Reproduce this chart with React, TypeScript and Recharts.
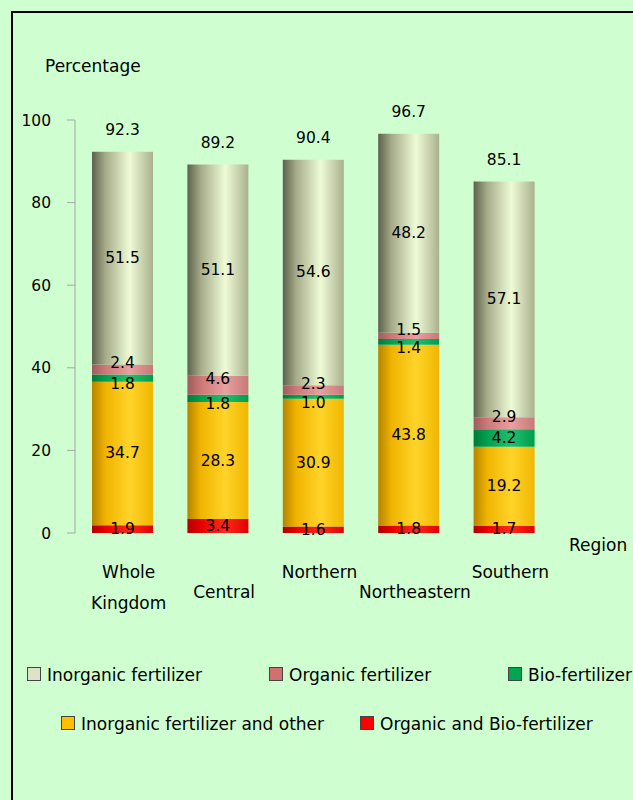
import { Bar, BarChart, LabelList, XAxis, YAxis } from "recharts";

const REGIONS = ["Whole Kingdom", "Central", "Northern", "Northeastern", "Southern"];
const ORGANIC_BIO = [1.9, 3.4, 1.6, 1.8, 1.7];
const INORGANIC_OTHER = [34.7, 28.3, 30.9, 43.8, 19.2];
const BIO = [1.8, 1.8, 1.0, 1.4, 4.2];
const ORGANIC = [2.4, 4.6, 2.3, 1.5, 2.9];
const INORGANIC = [51.5, 51.1, 54.6, 48.2, 57.1];
const TOTALS = [92.3, 89.2, 90.4, 96.7, 85.1];
const Y_TICKS = [0, 20, 40, 60, 80, 100];
const EDGE_TICKS = [0, 1, 2, 3, 4, 5];

// stacked bottom -> top
const SERIES = [
  { key: "orgBio", name: "Organic and Bio-fertilizer", swatch: "#ff0000", stops: ["#b00000", "#e60000", "#ff2a1a", "#e00000"] },
  { key: "inorgOther", name: "Inorganic fertilizer and other", swatch: "#ffc000", stops: ["#b58400", "#f0b400", "#ffd42a", "#f0b600"] },
  { key: "bio", name: "Bio-fertilizer", swatch: "#00a550", stops: ["#007a3a", "#00a050", "#20c070", "#009c4a"] },
  { key: "organic", name: "Organic fertilizer", swatch: "#d07070", stops: ["#9e5a5a", "#cc7878", "#e8a0a0", "#c87878"] },
  { key: "inorganic", name: "Inorganic fertilizer", swatch: "#dde3c8", stops: ["#5e614a", "#a6ab8a", "#eefcd6", "#aab08e"] },
];

// small label nudges so the thin segments' labels don't collide
const LABEL_DY: Record<string, (v: number) => number> = {
  organic: () => -6,
  bio: (v) => (v < 3 ? 6 : 0),
};

const data = REGIONS.map((region, i) => ({
  region,
  orgBio: ORGANIC_BIO[i],
  inorgOther: INORGANIC_OTHER[i],
  bio: BIO[i],
  organic: ORGANIC[i],
  inorganic: INORGANIC[i],
  total: TOTALS[i],
}));

const GRID = "#a6a6a6";
const FONT = "'DejaVu Sans', sans-serif";
const fmt = (v: any) => Number(v).toFixed(1);

function RegionTick(props: any) {
  const { x, y, payload, index } = props;
  const words = String(payload.value).split(" ");
  const first = index % 2 === 0 || words.length > 1 ? 39 : 59;
  return (
    <g>
      {words.map((w: string, j: number) => (
        <text
          key={j}
          x={x + 6}
          y={y + first + j * 31}
          textAnchor="middle"
          dominantBaseline="central"
          fontSize={17}
          fill="#000"
        >
          {w}
        </text>
      ))}
    </g>
  );
}

const segLabel = (key: string) => (p: any) => {
  const { x, y, width, height, value } = p;
  if (value == null) return null;
  const dy = LABEL_DY[key] ? LABEL_DY[key](Number(value)) : 0;
  return (
    <text
      x={Number(x) + Number(width) / 2}
      y={Number(y) + Number(height) / 2 + dy}
      textAnchor="middle"
      dominantBaseline="central"
      fontSize={15.5}
      fill="#000"
    >
      {fmt(value)}
    </text>
  );
};

function LegendItem({ left, top, color, label }: { left: number; top: number; color: string; label: string }) {
  return (
    <div style={{ position: "absolute", left, top, height: 20, display: "flex", alignItems: "center", whiteSpace: "nowrap" }}>
      <span style={{ width: 12, height: 12, background: color, border: "1px solid #444", marginRight: 6, marginTop: -3 }} />
      <span style={{ fontSize: 17 }}>{label}</span>
    </div>
  );
}

export default function App() {
  const legend = [
    { left: 27, top: 665, s: SERIES[4] },
    { left: 269, top: 665, s: SERIES[3] },
    { left: 508, top: 665, s: SERIES[2] },
    { left: 61, top: 714, s: SERIES[1] },
    { left: 360, top: 714, s: SERIES[0] },
  ];
  return (
    <div
      style={{
        position: "fixed",
        left: 0,
        top: 0,
        width: 633,
        height: 800,
        overflow: "hidden",
        background: "#cfffd0",
        fontFamily: FONT,
        color: "#000",
      }}
    >
      <div
        style={{
          position: "absolute",
          left: 11,
          top: 11,
          width: 800,
          height: 900,
          borderLeft: "2px solid #000",
          borderTop: "2px solid #000",
        }}
      />
      <div style={{ position: "absolute", left: 45, top: 56, fontSize: 17 }}>Percentage</div>
      <div style={{ position: "absolute", left: 569, top: 535, fontSize: 17 }}>Region</div>
      <div style={{ position: "absolute", left: 0, top: 0 }}>
        <BarChart
          width={633}
          height={800}
          data={data}
          margin={{ top: 120, right: 81, bottom: 187, left: 25 }}
          barSize={61}
        >
          <defs>
            {SERIES.map((s) => (
              <linearGradient key={s.key} id={`grad-${s.key}`} x1="0" y1="0" x2="1" y2="0">
                <stop offset="0%" stopColor={s.stops[0]} />
                <stop offset="22%" stopColor={s.stops[1]} />
                <stop offset="62%" stopColor={s.stops[2]} />
                <stop offset="100%" stopColor={s.stops[3]} />
              </linearGradient>
            ))}
          </defs>
          <XAxis
            xAxisId="edges"
            type="number"
            domain={[0, 5]}
            ticks={EDGE_TICKS}
            height={0}
            tick={false}
            tickSize={7}
            axisLine={{ stroke: GRID }}
            tickLine={{ stroke: GRID }}
          />
          <XAxis
            dataKey="region"
            height={80}
            axisLine={false}
            tickLine={false}
            tickSize={0}
            tickMargin={0}
            interval={0}
            tick={<RegionTick />}
          />
          <XAxis xAxisId="top" dataKey="region" orientation="top" height={0} tick={false} tickLine={false} axisLine={{ stroke: GRID }} />
          <YAxis
            domain={[0, 100]}
            ticks={Y_TICKS}
            width={50}
            tickSize={8}
            tickMargin={16}
            axisLine={{ stroke: GRID }}
            tickLine={{ stroke: GRID }}
            tick={{ fontSize: 15.5, fill: "#000" }}
          />
          <YAxis yAxisId="right" orientation="right" domain={[0, 100]} width={0} tick={false} tickLine={false} axisLine={{ stroke: GRID }} />
          {SERIES.map((s, i) => (
            <Bar key={s.key} dataKey={s.key} name={s.name} stackId="a" fill={`url(#grad-${s.key})`} isAnimationActive={false}>
              <LabelList dataKey={s.key} content={segLabel(s.key)} />
              {i === SERIES.length - 1 && (
                <LabelList dataKey="total" position="top" offset={17} formatter={fmt} fontSize={15.5} fill="#000" />
              )}
            </Bar>
          ))}
        </BarChart>
      </div>
      {legend.map((l) => (
        <LegendItem key={l.s.key} left={l.left} top={l.top} color={l.s.swatch} label={l.s.name} />
      ))}
    </div>
  );
}
